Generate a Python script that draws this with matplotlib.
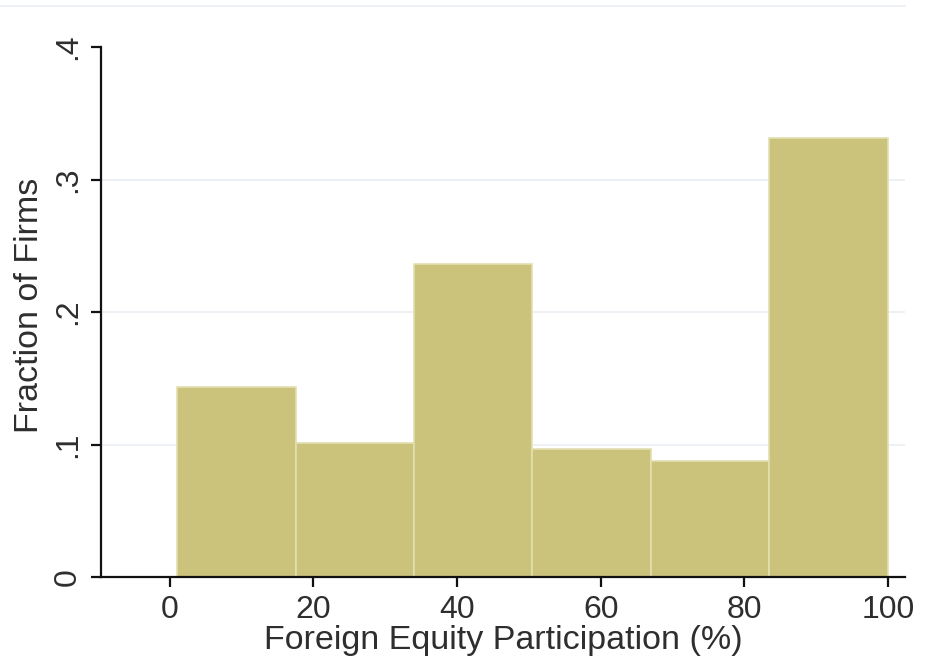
import matplotlib
matplotlib.use("Agg")
import matplotlib.pyplot as plt
import numpy as np

bin_edges = [1, 17.5, 34, 50.5, 67, 83.5, 100]
fractions = [0.1437, 0.1013, 0.2365, 0.0968, 0.0877, 0.3315]
x_ticks = [0, 20, 40, 60, 80, 100]
y_ticks = [0, 0.1, 0.2, 0.3, 0.4]
y_tick_labels = ["0", ".1", ".2", ".3", ".4"]

plt.rcParams['font.family'] = ['Liberation Sans', 'DejaVu Sans']
txt_color = '#2e2e2e'

fig = plt.figure(figsize=(9.26, 6.71), dpi=100)
ax = fig.add_axes([101/926, (671-577)/671, (905-101)/926, (577-47)/671])

widths = np.diff(bin_edges)
ax.bar(bin_edges[:-1], fractions, width=widths, align='edge',
       color='#CBC27B', edgecolor='#E3DFB0', linewidth=1.2, zorder=2)

ax.set_xlim(-9.6, 102.4)
ax.set_ylim(0, 0.4)
for y in [0.1, 0.2, 0.3]:
    ax.axhline(y, color='#EAEFF4', linewidth=1.2, zorder=1)

ax.set_xticks(x_ticks)
ax.set_xticklabels([str(t) for t in x_ticks], fontsize=23, color=txt_color)
ax.set_yticks(y_ticks)
ax.set_yticklabels(y_tick_labels, fontsize=23, rotation=90, va='center', color=txt_color)

ax.spines['top'].set_visible(False)
ax.spines['right'].set_visible(False)
for s in ['left', 'bottom']:
    ax.spines[s].set_linewidth(1.6)
    ax.spines[s].set_color('#111111')
ax.tick_params(axis='both', direction='out', length=7, width=1.6, color='#111111')
ax.tick_params(axis='x', pad=6)
ax.tick_params(axis='y', pad=6)

ax.set_xlabel('Foreign Equity Participation (%)', fontsize=24.5, color=txt_color, labelpad=0)
ax.set_ylabel('Fraction of Firms', fontsize=24.5, color=txt_color)
ax.yaxis.set_label_coords(-56/804, 0.513)

fig.add_artist(plt.Line2D([0, 905/926], [1-6/671, 1-6/671], color='#EAEFF4', linewidth=1.2))

fig.savefig('out.png', dpi=100)
